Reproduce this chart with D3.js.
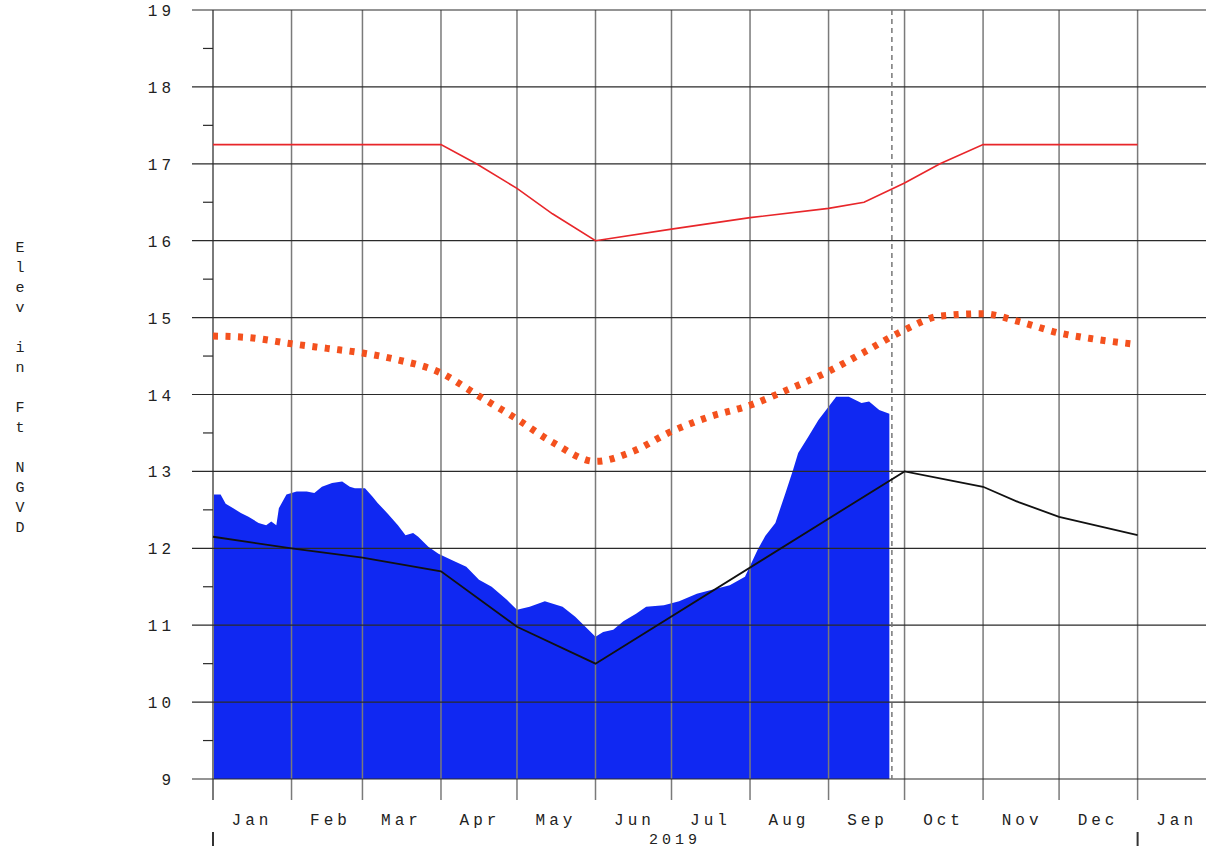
<!DOCTYPE html>
<html>
<head>
<meta charset="utf-8">
<script src="https://cdn.jsdelivr.net/npm/d3@7/dist/d3.min.js"></script>
<style>
  html, body { margin: 0; padding: 0; background: #fff; }
  svg { display: block; }
  text { font-family: "Liberation Mono", "DejaVu Sans Mono", monospace; fill: #222; }
</style>
</head>
<body>
<svg id="chart" width="1206" height="850"></svg>
<script>
// stage readings (ft NGVD), 2019
const stageDates = ["2019-01-01","2019-01-04","2019-01-06","2019-01-09","2019-01-12","2019-01-15","2019-01-19","2019-01-22","2019-01-24","2019-01-26","2019-01-27","2019-01-30","2019-02-03","2019-02-07","2019-02-10","2019-02-13","2019-02-17","2019-02-21","2019-02-24","2019-02-26","2019-03-02","2019-03-05","2019-03-07","2019-03-11","2019-03-15","2019-03-18","2019-03-21","2019-03-23","2019-03-27","2019-03-31","2019-04-05","2019-04-11","2019-04-16","2019-04-21","2019-04-27","2019-05-01","2019-05-06","2019-05-12","2019-05-19","2019-05-24","2019-05-28","2019-06-01","2019-06-04","2019-06-08","2019-06-12","2019-06-17","2019-06-21","2019-06-28","2019-07-04","2019-07-11","2019-07-17","2019-07-24","2019-07-30","2019-08-04","2019-08-07","2019-08-11","2019-08-15","2019-08-18","2019-08-20","2019-08-24","2019-08-28","2019-09-01","2019-09-04","2019-09-09","2019-09-14","2019-09-17","2019-09-21","2019-09-25"];
const stageValues = [12.70,12.70,12.58,12.52,12.46,12.41,12.33,12.30,12.35,12.30,12.52,12.70,12.74,12.74,12.72,12.80,12.85,12.87,12.80,12.78,12.78,12.67,12.59,12.45,12.30,12.17,12.20,12.15,12.02,11.93,11.85,11.76,11.59,11.50,11.33,11.20,11.24,11.31,11.24,11.11,10.98,10.85,10.91,10.94,11.05,11.15,11.24,11.26,11.31,11.41,11.46,11.52,11.63,11.98,12.16,12.33,12.72,13.02,13.24,13.45,13.67,13.84,13.97,13.97,13.89,13.91,13.80,13.75];

// upper schedule line (red)
const upperDates = ["2019-01-01","2019-04-01","2019-04-15","2019-05-01","2019-05-15","2019-06-01","2019-07-01","2019-08-01","2019-09-01","2019-09-15","2019-10-01","2019-10-15","2019-11-01","2020-01-01"];
const upperValues = [17.25,17.25,17.0,16.68,16.35,16.0,16.15,16.3,16.42,16.5,16.75,17.0,17.25,17.25];

// middle schedule line (orange, dashed)
const midDates = ["2019-01-01","2019-01-15","2019-02-01","2019-02-15","2019-03-01","2019-03-15","2019-04-01","2019-04-15","2019-05-01","2019-05-15","2019-06-01","2019-06-15","2019-07-01","2019-07-15","2019-08-01","2019-08-15","2019-09-01","2019-09-15","2019-10-01","2019-10-15","2019-11-01","2019-11-15","2019-12-01","2019-12-15","2020-01-01"];
const midValues = [14.76,14.74,14.66,14.60,14.54,14.45,14.28,14.00,13.68,13.38,13.13,13.25,13.52,13.70,13.86,14.05,14.30,14.55,14.84,15.02,15.05,14.95,14.80,14.72,14.65];

// lower schedule line (black)
const lowerDates = ["2019-01-01","2019-02-01","2019-03-01","2019-04-01","2019-05-01","2019-06-01","2019-10-01","2019-11-01","2019-11-15","2019-12-01","2019-12-15","2020-01-01"];
const lowerValues = [12.15,12.0,11.88,11.7,10.98,10.5,13.0,12.8,12.6,12.41,12.3,12.17];

const monthLabels = ["Jan","Feb","Mar","Apr","May","Jun","Jul","Aug","Sep","Oct","Nov","Dec","Jan"];
const yTicks = [9,10,11,12,13,14,15,16,17,18,19];
const yLabel = "Elev in Ft NGVD";
const todayDate = "2019-09-26";

const parse = d3.utcParse("%Y-%m-%d");
const zip = (ds, vs) => ds.map((d, i) => ({ date: parse(d), value: vs[i] }));

const svg = d3.select("#chart");
const x = d3.scaleUtc()
  .domain([parse("2019-01-01"), parse("2020-01-28")])
  .range([213, 1206]);
const y = d3.scaleLinear().domain([9, 19]).range([779, 10]);

// observed stage area
const stage = zip(stageDates, stageValues);
svg.append("path")
  .datum(stage)
  .attr("fill", "#1028f2")
  .attr("d", d3.area().x(d => x(d.date)).y0(y(9)).y1(d => y(d.value)));

// grid: month lines
const months = d3.utcMonth.range(parse("2019-01-01"), parse("2020-01-02"));
svg.append("g").selectAll("line")
  .data(months)
  .join("line")
  .attr("x1", d => x(d)).attr("x2", d => x(d))
  .attr("y1", y(19)).attr("y2", 800)
  .attr("stroke", "#7a7a7a")
  .attr("stroke-width", d => d.getTime() === months[0].getTime() ? 2 : 1.5);

// grid: horizontal lines and minor ticks
svg.append("g").selectAll("line")
  .data(yTicks)
  .join("line")
  .attr("x1", 192).attr("x2", 1206)
  .attr("y1", d => y(d)).attr("y2", d => y(d))
  .attr("stroke", "#2a2a2a")
  .attr("stroke-width", 1.2);

svg.append("g").selectAll("line")
  .data(yTicks.slice(0, -1).map(v => v + 0.5))
  .join("line")
  .attr("x1", 203).attr("x2", 213)
  .attr("y1", d => y(d)).attr("y2", d => y(d))
  .attr("stroke", "#2a2a2a")
  .attr("stroke-width", 1.2);

// today marker
svg.append("line")
  .attr("x1", x(parse(todayDate))).attr("x2", x(parse(todayDate)))
  .attr("y1", y(19)).attr("y2", y(9))
  .attr("stroke", "#777")
  .attr("stroke-width", 1.5)
  .attr("stroke-dasharray", "5,4");

const line = d3.line().x(d => x(d.date)).y(d => y(d.value));

svg.append("path")
  .datum(zip(midDates, midValues))
  .attr("fill", "none")
  .attr("stroke", "#f4511e")
  .attr("stroke-width", 7)
  .attr("stroke-dasharray", "5,7.5")
  .attr("d", line.curve(d3.curveMonotoneX));

svg.append("path")
  .datum(zip(upperDates, upperValues))
  .attr("fill", "none")
  .attr("stroke", "#e8262a")
  .attr("stroke-width", 1.6)
  .attr("d", d3.line().x(d => x(d.date)).y(d => y(d.value)));

svg.append("path")
  .datum(zip(lowerDates, lowerValues))
  .attr("fill", "none")
  .attr("stroke", "#111")
  .attr("stroke-width", 1.8)
  .attr("d", d3.line().x(d => x(d.date)).y(d => y(d.value)));

// y tick labels
svg.append("g").selectAll("text")
  .data(yTicks)
  .join("text")
  .attr("x", 175)
  .attr("y", d => y(d) + 6)
  .attr("text-anchor", "end")
  .style("font-size", "16px")
  .style("letter-spacing", "4px")
  .text(d => d);

// month labels
const labelMonths = d3.utcMonth.range(parse("2019-01-01"), parse("2020-01-02"));
svg.append("g").selectAll("text")
  .data(labelMonths)
  .join("text")
  .attr("x", d => x(d3.utcDay.offset(d, 15)) + 1)
  .attr("y", 825)
  .attr("text-anchor", "middle")
  .style("font-size", "16px")
  .style("letter-spacing", "4px")
  .text((d, i) => monthLabels[i]);

svg.append("text")
  .attr("x", x(parse("2019-07-02")) + 1)
  .attr("y", 844)
  .attr("text-anchor", "middle")
  .style("font-size", "15px")
  .style("letter-spacing", "4px")
  .text("2019");

// year boundaries
svg.append("g").selectAll("line")
  .data([parse("2019-01-01"), parse("2020-01-01")])
  .join("line")
  .attr("x1", d => x(d)).attr("x2", d => x(d))
  .attr("y1", 832).attr("y2", 846)
  .attr("stroke", "#333")
  .attr("stroke-width", 2);

// vertical y-axis title
svg.append("g").selectAll("text")
  .data(yLabel.split(""))
  .join("text")
  .attr("x", 20)
  .attr("y", (d, i) => 252 + i * 20)
  .attr("text-anchor", "middle")
  .style("font-size", "15px")
  .text(d => d);
</script>
</body>
</html>
